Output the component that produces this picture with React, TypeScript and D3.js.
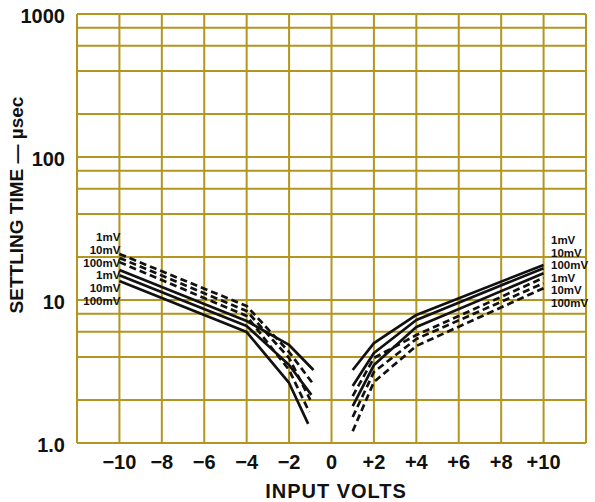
import React from "react";
import * as d3 from "d3";

// x ticks (volts) and y gridlines (usec)
const xTicks = [-10, -8, -6, -4, -2, 0, 2, 4, 6, 8, 10];
const xGrid = [-12, -10, -8, -6, -4, -2, 0, 2, 4, 6, 8, 10, 12];
const yGrid = [1, 2, 4, 6, 8, 10, 20, 40, 60, 80, 100, 200, 400, 600, 800, 1000];
const yTicks = [1, 10, 100, 1000];
const curveLabels = ["1mV", "10mV", "100mV", "1mV", "10mV", "100mV"];

// negative input side
const negDashed1 = [[-10, 21.0], [-4, 9.08], [-2, 4.33], [-0.9, 2.63]];
const negDashed10 = [[-10, 19.7], [-4, 8.38], [-2, 3.93], [-1.0, 2.0]];
const negDashed100 = [[-10, 18.4], [-4, 7.73], [-2, 3.24], [-1.05, 1.65]];
const negSolid1 = [[-10, 16.2], [-4, 7.13], [-2, 4.85], [-0.85, 3.24]];
const negSolid10 = [[-10, 14.9], [-4, 6.58], [-2, 3.51], [-0.95, 2.17]];
const negSolid100 = [[-10, 13.6], [-4, 5.97], [-2, 2.63], [-1.1, 1.36]];

// positive input side
const posSolid1 = [[1.0, 3.24], [2, 5.0], [4, 7.86], [10, 17.6]];
const posSolid10 = [[1.0, 2.5], [2, 4.26], [4, 7.25], [10, 16.7]];
const posSolid100 = [[1.0, 1.81], [2, 3.51], [4, 6.47], [10, 15.4]];
const posDashed1 = [[1.0, 2.13], [2, 3.93], [4, 5.69], [10, 14.3]];
const posDashed10 = [[1.0, 1.52], [2, 3.14], [4, 5.34], [10, 13.1]];
const posDashed100 = [[1.0, 1.21], [2, 2.67], [4, 4.77], [10, 12.1]];

const solidSeries = [negSolid1, negSolid10, negSolid100, posSolid1, posSolid10, posSolid100];
const dashedSeries = [negDashed1, negDashed10, negDashed100, posDashed1, posDashed10, posDashed100];

const W = 595;
const H = 502;
const gridColor = "#b3961f";
const font = "'Liberation Sans', Arial, sans-serif";

export default function App() {
  const x = d3.scaleLinear().domain([-12, 12]).range([77, 586]);
  const y = d3.scaleLog().domain([1, 1000]).range([443, 14]);

  const line = d3
    .line<number[]>()
    .x((d) => x(d[0]))
    .y((d) => y(d[1]));

  const fmtX = (v: number) => (v < 0 ? "\u2212" + Math.abs(v) : v > 0 ? "+" + v : "0");
  const fmtY = (v: number) => (v === 1 ? "1.0" : String(v));

  return (
    <svg
      width={W}
      height={H}
      style={{ position: "absolute", left: 0, top: 0, background: "#fff" }}
      fontFamily={font}
    >
      {/* grid */}
      <g stroke={gridColor} strokeWidth={2}>
        {xGrid.map((v) => (
          <line key={"vx" + v} x1={x(v)} x2={x(v)} y1={y(1)} y2={y(1000)} />
        ))}
        {yGrid.map((v) => (
          <line key={"hy" + v} x1={x(-12)} x2={x(12)} y1={y(v)} y2={y(v)} />
        ))}
      </g>

      {/* curves */}
      <g fill="none" stroke="#111" strokeWidth={2.7} strokeLinejoin="round">
        {solidSeries.map((s, i) => (
          <path key={"s" + i} d={line(s) || ""} />
        ))}
        {dashedSeries.map((s, i) => (
          <path key={"d" + i} d={line(s) || ""} strokeDasharray="7 4" />
        ))}
      </g>

      {/* curve labels */}
      <g fontSize={11.5} fontWeight="bold" fill="#111">
        {curveLabels.map((t, i) => (
          <text key={"l" + i} x={x(-10) + 1} y={237 + i * 12.8} dy="0.35em" textAnchor="end">
            {t}
          </text>
        ))}
        {curveLabels.map((t, i) => (
          <text key={"r" + i} x={551} y={240 + i * 12.6} dy="0.35em">
            {t}
          </text>
        ))}
      </g>

      {/* y tick labels */}
      <g fontSize={20} fontWeight="bold" fill="#111" textAnchor="end">
        {yTicks.map((v) => (
          <text key={"yt" + v} x={65} y={y(v) + 2} dy="0.35em">
            {fmtY(v)}
          </text>
        ))}
      </g>

      {/* x tick labels */}
      <g fontSize={20} fontWeight="bold" fill="#111" textAnchor="middle">
        {xTicks.map((v) => (
          <text key={"xt" + v} x={x(v)} y={469}>
            {fmtX(v)}
          </text>
        ))}
      </g>

      <text x={336} y={498} fontSize={20} fontWeight="bold" textAnchor="middle" fill="#111" letterSpacing={1}>
        INPUT VOLTS
      </text>
      <text
        transform="translate(23,205) rotate(-90)"
        fontSize={19}
        fontWeight="bold"
        textAnchor="middle"
        fill="#111"
      >
        SETTLING TIME — µsec
      </text>
    </svg>
  );
}
